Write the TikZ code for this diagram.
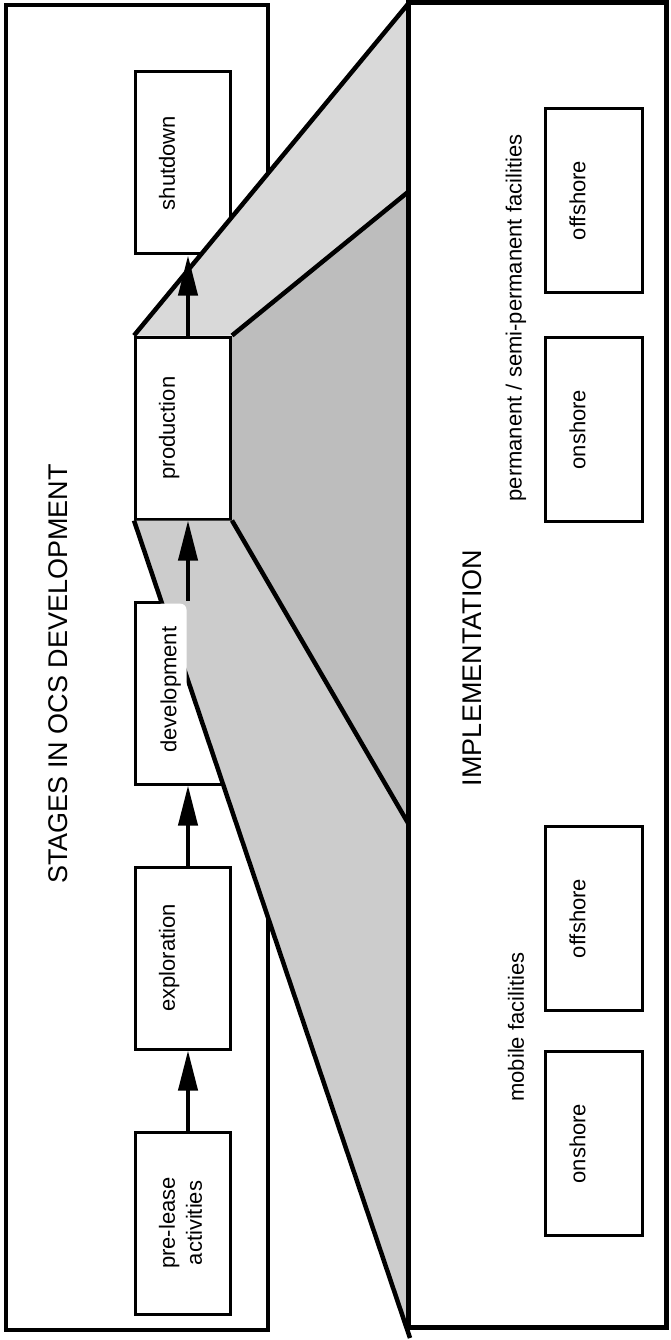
\documentclass[tikz,border=0pt]{standalone}
\usepackage{fontspec}
\setmainfont{Liberation Sans}
\usepackage{graphicx}
\usetikzlibrary{positioning, arrows.meta, calc}
\newcommand{\vtext}[1]{\rotatebox{90}{\begin{tabular}{@{}c@{}}#1\end{tabular}}}
\tikzset{
  frame/.style={draw, line width=4pt, fill=white},
  block/.style={draw, line width=3pt, fill=white, inner sep=0pt, font=\fontsize{22}{27}\selectfont},
  stage/.style={block, minimum width=95pt, minimum height=182pt},
  site/.style={block, minimum width=97pt, minimum height=184pt},
  lblmask/.style={fill=white, rounded corners=6pt, inner sep=2pt, font=\fontsize{22}{27}\selectfont},
  title/.style={font=\fontsize{27}{30}\selectfont, rotate=90},
  lbl/.style={font=\fontsize{22}{27}\selectfont, rotate=90},
  arr/.style={-{Triangle[length=40pt, width=19pt]}, line width=4pt},
  rim/.style={line width=4.5pt},
  topface/.style={fill=gray!30},
  frontface/.style={fill=gray!52},
  lowface/.style={fill=gray!40}
}
\begin{document}
\begin{tikzpicture}[x=1pt, y=-1pt, node distance=80pt]
\useasboundingbox (0,0) rectangle (670,1340);
\draw[frame] (6,5) rectangle (268,1330);
\node[stage] (shut) at (183,163) {\vtext{shutdown\\\mbox{}}};
\node[stage, below=of shut] (prod) {\vtext{production\\\mbox{}}};
\node[stage, below=of prod] (dev) {};
\node[stage, below=of dev] (expl) {\vtext{exploration\\\mbox{}}};
\node[stage, below=of expl] (pre) {\vtext{pre-lease\\activities}};
\node[title] (stagestitle) at (58,674) {STAGES IN OCS DEVELOPMENT};
\coordinate (rtop) at (408,4);
\coordinate (rmid) at (408,192);
\coordinate (rlow) at (408,823);
\coordinate (rbot) at (410,1338);
\fill[topface] (prod.north west) -- (rtop) -- (rmid) -- (prod.north east) -- cycle;
\fill[frontface] (prod.north east) -- (rmid) -- (rlow) -- (prod.south east) -- cycle;
\fill[lowface] (prod.south west) -- (prod.south east) -- (rlow) -- (rbot) -- cycle;
\draw[rim] (prod.north west) -- (rtop);
\draw[rim] (prod.north east) -- (rmid);
\draw[rim] (prod.south east) -- (rlow);
\draw[rim] (prod.south west) -- (rbot);
\node[lblmask, anchor=north, minimum height=172pt] (devlbl) at ([xshift=-12pt, yshift=-3pt]dev.north) {\vtext{development}};
\draw[arr] ([xshift=5pt]pre.north) -- ([xshift=5pt]expl.south);
\draw[arr] ([xshift=5pt]expl.north) -- ([xshift=5pt]dev.south);
\draw[arr] ([xshift=5pt]dev.north) -- ([xshift=5pt]prod.south);
\draw[arr] ([xshift=5pt]prod.north) -- ([xshift=5pt]shut.south);
\draw[frame, line width=5pt] (408,3) rectangle (666,1327);
\node[title] (impltitle) at (472,668) {IMPLEMENTATION};
\node[lbl] (permlbl) at (516,318) {permanent / semi-permanent facilities};
\node[lbl] (moblbl) at (516,1027) {mobile facilities};
\node[site] (permoff) at (593.5,200.5) {\vtext{offshore\\\mbox{}}};
\node[site, below=42pt of permoff] (permon) {\vtext{onshore\\\mbox{}}};
\node[site] (moboff) at (593.5,918.5) {\vtext{offshore\\\mbox{}}};
\node[site, below=38pt of moboff] (mobon) {\vtext{onshore\\\mbox{}}};
\end{tikzpicture}
\end{document}
